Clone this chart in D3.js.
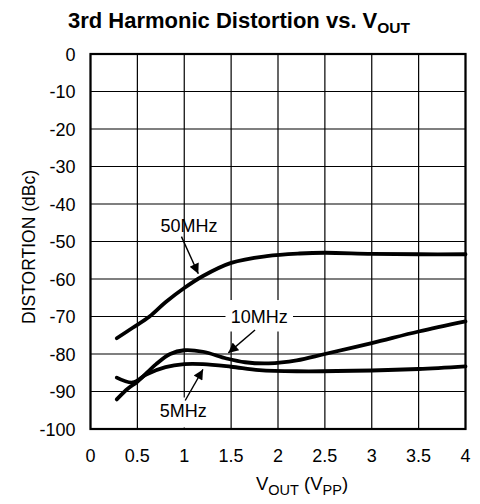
<!DOCTYPE html>
<html><head><meta charset="utf-8">
<script src="https://cdn.jsdelivr.net/npm/d3@7"></script>
<style>body{margin:0;background:#fff}svg{display:block;font-family:"Liberation Sans",Arial,sans-serif}</style>
</head><body><svg id="c" width="480" height="504"></svg>
<script>
const xTicks = [0,0.5,1,1.5,2,2.5,3,3.5,4];
const xTickLabels = ["0","0.5","1","1.5","2","2.5","3","3.5","4"];
const yTicks = [0,-10,-20,-30,-40,-50,-60,-70,-80,-90,-100];
const x50 = [0.28,0.45,0.63,0.8,1.0,1.2,1.5,1.88,2.23,2.5,3.0,3.5,4.0];
const y50 = [-75.8,-73,-70,-66.2,-62.4,-59.2,-55.7,-53.9,-53.2,-53.0,-53.3,-53.4,-53.4];
const x10 = [0.28,0.4,0.5,0.7,0.85,1.0,1.2,1.45,1.65,1.9,2.2,2.5,3.0,3.5,4.0];
const y10 = [-92.1,-89.2,-87.4,-82.7,-80,-79,-79.4,-81.2,-82.2,-82.5,-81.7,-80,-77.1,-74,-71.3];
const x5 = [0.28,0.45,0.6,0.8,1.0,1.2,1.5,1.8,2.2,3.0,3.5,4.0];
const y5 = [-86.3,-87.6,-85.4,-83.5,-82.7,-82.7,-83.4,-84.3,-84.6,-84.4,-84,-83.3];

const svg = d3.select("#c");
const L = 90.5, T = 54, W = 375, H = 375;
const x = d3.scaleLinear().domain([0,4]).range([L, L+W]);
const y = d3.scaleLinear().domain([0,-100]).range([T, T+H]);

// grid
const g = svg.append("g");
g.selectAll(".vx").data(xTicks).join("line")
  .attr("x1", d=>x(d)).attr("x2", d=>x(d)).attr("y1", T).attr("y2", T+H)
  .attr("stroke", "#000").attr("stroke-width", 1.2);
g.selectAll(".hy").data(yTicks).join("line")
  .attr("y1", d=>y(d)).attr("y2", d=>y(d)).attr("x1", L).attr("x2", L+W)
  .attr("stroke", "#000").attr("stroke-width", 1.2);

// label backgrounds
const bg = svg.append("g");
bg.append("rect").attr("x", x(1.44)).attr("y", y(-65.6)).attr("width", x(2.16)-x(1.44)).attr("height", y(-74)-y(-65.6)).attr("fill","#fff");
bg.append("rect").attr("x", x(0.7)).attr("y", y(-91.6)).attr("width", x(1.28)-x(0.7)).attr("height", y(-99.6)-y(-91.6)).attr("fill","#fff");

svg.append("rect").attr("x", L).attr("y", T).attr("width", W).attr("height", H)
  .attr("fill","none").attr("stroke","#000").attr("stroke-width",2.2);

// curves
const line = d3.line().x(d=>x(d[0])).y(d=>y(d[1])).curve(d3.curveCatmullRom.alpha(0.5));
[[x50,y50],[x10,y10],[x5,y5]].forEach(([xs,ys])=>{
  svg.append("path").datum(xs.map((v,i)=>[v,ys[i]])).attr("d", line)
    .attr("fill","none").attr("stroke","#000").attr("stroke-width",3.8).attr("stroke-linecap","round");
});

// arrows
svg.append("defs").append("marker").attr("id","ah").attr("viewBox","0 0 10 10")
  .attr("refX",10).attr("refY",5).attr("markerWidth",13).attr("markerHeight",10)
  .attr("markerUnits","userSpaceOnUse").attr("orient","auto")
  .append("path").attr("d","M0,0 L10,5 L0,10 Z").attr("fill","#000");
const arrows = [
  [[0.97,-48.7],[1.15,-58.6]],
  [[1.755,-73.6],[1.47,-79.7]],
  [[1.01,-92.4],[1.2,-84.1]]
];
arrows.forEach(a=>{
  svg.append("line").attr("x1",x(a[0][0])).attr("y1",y(a[0][1])).attr("x2",x(a[1][0])).attr("y2",y(a[1][1]))
    .attr("stroke","#000").attr("stroke-width",1.4).attr("marker-end","url(#ah)");
});

const fs = 18;
const lbl = [["50MHz",1.05,-47.4],["10MHz",1.8,-71.8],["5MHz",0.99,-96.8]];
lbl.forEach(l=>svg.append("text").attr("x",x(l[1])).attr("y",y(l[2])).attr("text-anchor","middle")
  .attr("font-size",fs).text(l[0]));

// tick labels
svg.selectAll(".yl").data(yTicks).join("text").attr("x", L-15).attr("y", d=>y(d)+6.5)
  .attr("text-anchor","end").attr("font-size",fs).text(d=>d);
svg.selectAll(".xl").data(xTicks).join("text").attr("x", d=>x(d)).attr("y", T+H+33)
  .attr("text-anchor","middle").attr("font-size",fs).text((d,i)=>xTickLabels[i]);

// title
const t = svg.append("text").attr("x",239).attr("y",28).attr("text-anchor","middle")
  .attr("font-size",22).attr("font-weight","bold");
t.append("tspan").text("3rd Harmonic Distortion vs. V");
t.append("tspan").attr("dy",5).attr("font-size",15.5).text("OUT");

// x title
const xt = svg.append("text").attr("x",x(2)+24).attr("y",490).attr("text-anchor","middle").attr("font-size",18.5);
xt.append("tspan").text("V");
xt.append("tspan").attr("dy",5).attr("font-size",14.5).text("OUT");
xt.append("tspan").attr("dy",-5).text(" (V");
xt.append("tspan").attr("dy",5).attr("font-size",14.5).text("PP");
xt.append("tspan").attr("dy",-5).text(")");

// y title
svg.append("text").attr("transform",`translate(35,247) rotate(-90)`).attr("text-anchor","middle")
  .attr("font-size",17.5).text("DISTORTION (dBc)");
</script></body></html>
